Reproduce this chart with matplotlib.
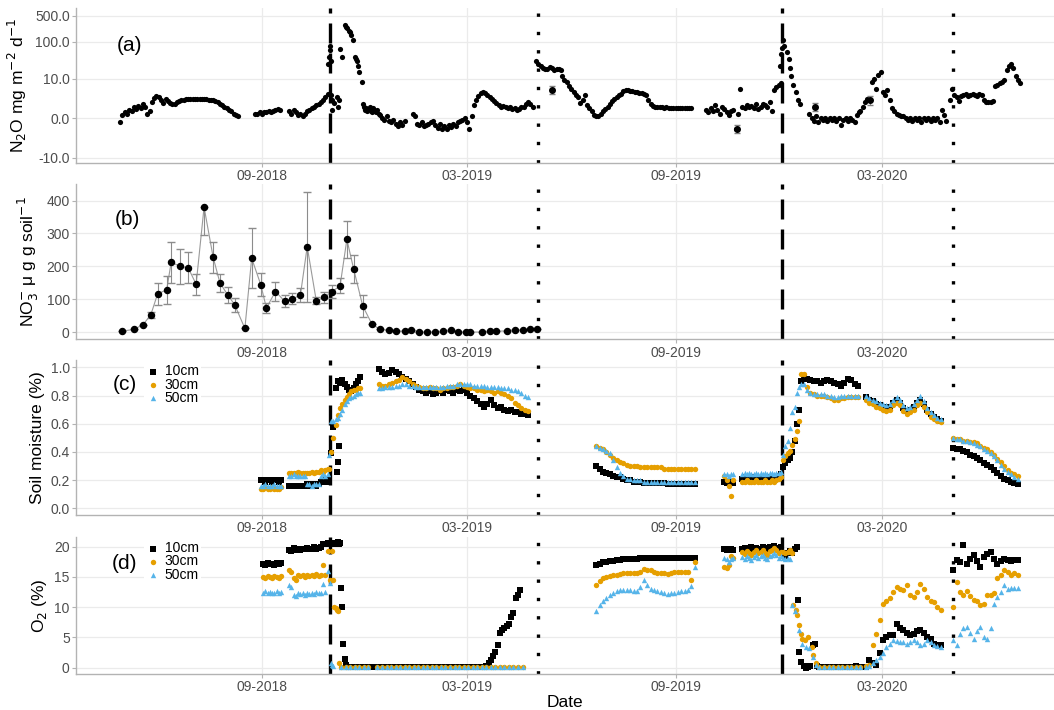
import numpy as np
import pandas as pd
import matplotlib
matplotlib.use("Agg")
import matplotlib.pyplot as plt
import matplotlib.dates as mdates

# ---------------- (a) N2O flux: (start date, step in days, values)
n2o_segments = [
    ("2018-04-29", 2, [-0.3, 0.2, 0.4, 0.3, 0.6, 0.5, 0.9, 0.7, 1.1, 0.8, 1.3, 1.0, 0.3, 0.5, 1.6, 2.4, 2.8, 2.5,
                       2.0, 1.5, 2.2, 1.8, 1.5, 1.3, 1.4, 1.6, 1.8, 1.9, 2.0, 2.1, 2.1, 2.2, 2.2, 2.2, 2.2, 2.2,
                       2.1, 2.2, 2.1, 2.0, 1.9, 2.0, 1.8, 1.6, 1.4, 1.2, 1.0, 0.8, 0.6, 0.5, 0.3, 0.2, 0.1]),
    ("2018-08-26", 2, [0.3, 0.3, 0.4, 0.3, 0.4, 0.4, 0.5, 0.4, 0.5, 0.6, 0.7, 0.6]),
    ("2018-09-25", 2, [0.5, 0.3, 0.6, 0.4, 0.2, 0.3, 0.1, 0.3, 0.5, 0.6, 0.8, 1.0, 1.2, 1.4, 1.7, 2.0, 2.6, 3.2]),
    ("2018-11-29", 1, [1.3, 1.0, 0.6, 0.8, 0.5, 0.7, 0.9, 0.5, 0.4, 0.8, 0.6, 0.5, 0.4, 0.6, 0.3]),
    ("2018-12-14", 2, [0.2, 0.0, -0.1, 0.1, -0.2, -0.3, -0.1, -0.4, -0.6, -0.3, -0.5, -0.2]),
    ("2019-01-12", 2, [0.3, 0.1, -0.4, -0.5, -0.3, -0.6, -0.5, -0.4, -0.3, -0.2, -0.5, -0.8, -0.4, -0.9,
                       -0.6, -1.0, -0.5, -0.7, -0.4, -0.6, -0.3, -0.2, -0.1, 0.0, -0.3, -1.0, 0.1]),
    ("2019-03-07", 2, [1.2, 2.0, 2.8, 3.5, 4.0, 3.5, 3.0, 2.6, 2.2, 1.8, 1.5, 1.2, 1.0, 1.1, 0.9, 0.8, 0.9,
                       0.7, 0.8, 0.6, 0.7, 0.9, 1.0, 1.4, 1.6, 1.3, 1.0]),
    ("2019-05-01", 2, [30, 25, 22, 20, 18, 19, 21, 20, 17, 18, 19, 17]),
    ("2019-05-24", 2, [12, 9, 8, 6, 5, 4, 3, 2.5, 1.5, 2.0, 3.0, 1.2, 0.8, 0.5, 0.2, 0.1, 0.1, 0.3, 0.5,
                       0.7, 1.0, 1.4, 1.8, 2.2, 2.6, 3.0, 3.3, 4.2, 4.6, 4.5, 4.3, 4.2, 4.0, 3.9, 3.7, 3.5,
                       3.4, 3.0, 2.0, 1.4, 1.1, 1.0, 0.95, 0.9, 0.9, 0.85, 0.9, 0.85, 0.8, 0.85, 0.8, 0.8,
                       0.8, 0.8, 0.85, 0.8, 0.8, 0.8]),
    ("2019-09-28", 2, [0.6, 0.4, 0.8, 0.5, 1.2, 0.6, 0.3, 1.0, 0.7, 0.4, 0.2, 0.5, 0.6, -1.0, 0.3, 5.0, 1.0,
                       0.8, 1.2, 0.9, 1.1, 0.8, 1.3, 0.7, 1.0, 1.4, 1.2, 0.9, 1.6, 0.5]),
    ("2019-11-27", 2, [4.5, 5.5, 6.5, 7.5]),
    ("2019-12-28", 2, [0.3, 0.0, -0.2, 0.1, -0.3, 0.0, -0.1, 0.0, -0.2, 0.0, -0.1, 0.0, -0.2, 0.0, -0.5,
                       -0.1, 0.0, -0.2, 0.0, -0.1, -0.3, 0.2, 0.4]),
    ("2020-02-11", 2, [0.5, 1.0, 1.6, 2.2, 2.0, 8.0, 10, 5.0, 13, 15, 4, 3, 4.5, 2.0, 0.8, 0.5, 0.3, 0.2, 0.1, 0.1]),
    ("2020-03-22", 2, [0.0, -0.1, 0.0, -0.2, 0.0, -0.1, 0.0, -0.3, 0.0, -0.1, 0.0, -0.2, 0.0, -0.1, 0.0,
                       -0.3, 0.6, 0.2, -0.2]),
    ("2020-04-30", 2, [2.0, 5.0, 3.0, 2.5, 1.8, 2.8, 3.0, 3.2, 2.9, 3.1, 3.3, 3.0, 2.8, 3.2, 3.0, 2.0, 1.6,
                       1.7, 1.6, 1.8, 6.0, 6.6, 7.2, 8.0, 9.0, 17, 22, 25, 20, 12, 9, 7.5]),
]
n2o_peak_dates = ["2018-10-29", "2018-10-30", "2018-10-31", "2018-10-31", "2018-11-01", "2018-11-01",
                  "2018-11-02", "2018-11-02", "2018-11-04", "2018-11-06", "2018-11-07", "2018-11-08",
                  "2018-11-09", "2018-11-11", "2018-11-13", "2018-11-14", "2018-11-15", "2018-11-17",
                  "2018-11-18", "2018-11-19", "2018-11-20", "2018-11-22", "2018-11-23", "2018-11-24",
                  "2018-11-25", "2018-11-26", "2018-11-28",
                  "2019-12-02", "2019-12-03", "2019-12-04", "2019-12-05", "2019-12-06", "2019-12-08",
                  "2019-12-10", "2019-12-11", "2019-12-12", "2019-12-14", "2019-12-16", "2019-12-18",
                  "2019-12-20"]
n2o_peak_vals = [25, 40, 60, 80, 30, 3.0, 0.6, 2.0, 1.5, 2.5, 1.0, 2.0,
                 65, 40, 280, 250, 230, 200, 180, 150, 110, 40, 35, 30, 22, 15, 8,
                 23, 48, 67, 112, 80, 54, 35, 20, 12, 6.6, 4.0, 2.0, 1.4]
n2o_err_dates = ["2019-05-15", "2019-10-25", "2020-01-02", "2020-02-20"]
n2o_err_vals = [4.6, -1.0, 1.0, 2.0]
n2o_err_sd = [1.2, 0.5, 0.5, 0.8]

# ---------------- (b) NO3
no3_dates = ["2018-05-01", "2018-05-11", "2018-05-19", "2018-05-26", "2018-06-01", "2018-06-09",
             "2018-06-13", "2018-06-21", "2018-06-28", "2018-07-05", "2018-07-12", "2018-07-20",
             "2018-07-26", "2018-08-02", "2018-08-08", "2018-08-17", "2018-08-23", "2018-08-31",
             "2018-09-05", "2018-09-13", "2018-09-21", "2018-09-28", "2018-10-05", "2018-10-11",
             "2018-10-19", "2018-10-26", "2018-11-02", "2018-11-09", "2018-11-15", "2018-11-21",
             "2018-11-29", "2018-12-07", "2018-12-14", "2018-12-22", "2018-12-28", "2019-01-05",
             "2019-01-11", "2019-01-18", "2019-01-25", "2019-02-01", "2019-02-08", "2019-02-15",
             "2019-02-21", "2019-02-28", "2019-03-04", "2019-03-14", "2019-03-21", "2019-03-27",
             "2019-04-05", "2019-04-12", "2019-04-19", "2019-04-26", "2019-05-02"]
no3_vals = [4, 9, 23, 53, 117, 129, 213, 200, 196, 146, 380, 228, 150, 113, 84, 12, 225, 145, 74, 124,
            95, 102, 113, 260, 96, 106, 124, 141, 282, 192, 80, 26, 9, 7, 4, 4, 7, 1, 1, 1, 4, 8, 1, 1,
            1, 1, 4, 3, 5, 8, 7, 10, 9]
no3_err_lo = [0, 0, 0, 10, 33, 43, 62, 53, 47, 32, 84, 47, 26, 25, 21, 0, 91, 34, 16, 29, 18, 17, 22,
              167, 10, 18, 20, 23, 56, 42, 33] + [0] * 22
no3_err_hi = [0, 0, 0, 10, 33, 43, 62, 53, 47, 32, 0, 47, 26, 25, 21, 0, 91, 34, 16, 29, 18, 17, 22,
              165, 10, 18, 20, 23, 56, 42, 33] + [0] * 22

# ---------------- (c) soil moisture
sm10_segments = [
    ("2018-08-31", 2, [0.20, 0.20, 0.19, 0.20, 0.20, 0.19, 0.20, 0.20, 0.19, 0.20]),
    ("2018-09-25", 2, [0.16, 0.16, 0.16, 0.16, 0.16, 0.16, 0.16, 0.16, 0.17, 0.16, 0.17, 0.17, 0.16, 0.17,
                       0.19, 0.19, 0.20, 0.19]),
    ("2018-10-30", 2, [0.20, 0.39, 0.58, 0.85, 0.90, 0.89, 0.91, 0.88, 0.86, 0.84, 0.83, 0.85, 0.88, 0.90, 0.93]),
    ("2018-11-06", 1, [0.26, 0.33, 0.44]),
    ("2018-12-13", 3, [0.99, 0.97, 0.95, 0.96, 0.98, 0.97, 0.95, 0.93, 0.92, 0.90, 0.88, 0.86, 0.84,
                       0.83, 0.82, 0.83, 0.81, 0.82, 0.83, 0.82, 0.84, 0.83, 0.82, 0.84, 0.83, 0.84,
                       0.82, 0.80, 0.78, 0.76, 0.74, 0.72, 0.74, 0.77, 0.73, 0.71, 0.72, 0.70, 0.69,
                       0.70, 0.68, 0.68, 0.67, 0.67, 0.66]),
    ("2019-06-23", 3, [0.30, 0.28, 0.26, 0.25, 0.24, 0.23, 0.22, 0.22, 0.21, 0.20, 0.20, 0.19, 0.19, 0.19,
                       0.18, 0.18, 0.18, 0.18, 0.18, 0.18, 0.18, 0.17, 0.17, 0.17, 0.17, 0.17, 0.17, 0.17,
                       0.17, 0.17]),
    ("2019-10-14", 2, [0.19, 0.18, 0.19, 0.19, 0.18]),
    ("2019-10-30", 2, [0.21, 0.22, 0.21, 0.21, 0.22, 0.21, 0.22, 0.21, 0.21, 0.22, 0.21, 0.22, 0.21, 0.21,
                       0.22, 0.22, 0.23, 0.24]),
    ("2019-12-05", 2, [0.29, 0.32, 0.34, 0.36, 0.40, 0.48, 0.60, 0.70, 0.90]),
    ("2019-12-23", 3, [0.93, 0.92, 0.91, 0.90, 0.90, 0.89, 0.90, 0.91, 0.90, 0.89, 0.88, 0.87, 0.89, 0.92,
                       0.91, 0.88, 0.87]),
    ("2020-02-16", 3, [0.79, 0.77, 0.76, 0.74, 0.73, 0.72, 0.71, 0.72, 0.75, 0.77, 0.75, 0.71, 0.69, 0.70,
                       0.72, 0.75, 0.77, 0.74, 0.70, 0.67, 0.65, 0.63, 0.62]),
    ("2020-05-03", 3, [0.43, 0.42, 0.42, 0.41, 0.40, 0.38, 0.37, 0.36, 0.34, 0.32, 0.31, 0.29, 0.27, 0.25,
                       0.23, 0.21, 0.20, 0.19, 0.18, 0.17]),
]
sm30_segments = [
    ("2018-08-31", 2, [0.14, 0.14, 0.15, 0.14, 0.14, 0.15, 0.14, 0.14, 0.14, 0.15]),
    ("2018-09-25", 2, [0.25, 0.25, 0.25, 0.25, 0.26, 0.25, 0.25, 0.25, 0.25, 0.25, 0.26, 0.25, 0.26, 0.26,
                       0.27, 0.26, 0.27, 0.28]),
    ("2018-10-30", 2, [0.28, 0.40, 0.50, 0.59, 0.66, 0.71, 0.74, 0.77, 0.79, 0.81, 0.83, 0.84, 0.84, 0.85, 0.85]),
    ("2018-12-13", 3, [0.88, 0.87, 0.87, 0.88, 0.89, 0.90, 0.91, 0.93, 0.92, 0.90, 0.88, 0.87, 0.86,
                       0.85, 0.85, 0.86, 0.85, 0.85, 0.84, 0.85, 0.85, 0.86, 0.86, 0.87, 0.88, 0.87,
                       0.86, 0.85, 0.85, 0.84, 0.84, 0.83, 0.84, 0.83, 0.82, 0.83, 0.82, 0.81, 0.80,
                       0.78, 0.75, 0.73, 0.71, 0.70, 0.69]),
    ("2019-06-23", 3, [0.44, 0.43, 0.42, 0.40, 0.38, 0.36, 0.34, 0.33, 0.32, 0.31, 0.30, 0.30, 0.30, 0.29,
                       0.29, 0.29, 0.29, 0.29, 0.29, 0.29, 0.28, 0.28, 0.28, 0.28, 0.28, 0.28, 0.28, 0.28,
                       0.28, 0.28]),
    ("2019-10-14", 2, [0.23, 0.20, 0.16, 0.09, 0.20]),
    ("2019-10-30", 2, [0.19, 0.19, 0.20, 0.19, 0.19, 0.19, 0.20, 0.19, 0.19, 0.19, 0.20, 0.19, 0.19, 0.20,
                       0.19, 0.20, 0.21, 0.22]),
    ("2019-12-05", 2, [0.34, 0.37, 0.39, 0.41, 0.45, 0.49, 0.55, 0.62, 0.95]),
    ("2019-12-23", 3, [0.95, 0.86, 0.82, 0.81, 0.80, 0.80, 0.80, 0.79, 0.78, 0.77, 0.77, 0.78, 0.78, 0.79,
                       0.79, 0.79, 0.79]),
    ("2020-02-16", 3, [0.77, 0.75, 0.74, 0.72, 0.71, 0.70, 0.69, 0.70, 0.73, 0.75, 0.73, 0.69, 0.67, 0.68,
                       0.70, 0.73, 0.75, 0.72, 0.68, 0.65, 0.63, 0.62, 0.61]),
    ("2020-05-03", 3, [0.50, 0.49, 0.49, 0.48, 0.48, 0.47, 0.47, 0.46, 0.44, 0.43, 0.42, 0.40, 0.38, 0.35,
                       0.33, 0.30, 0.27, 0.25, 0.24, 0.23]),
]
sm50_segments = [
    ("2018-08-31", 2, [0.16, 0.16, 0.17, 0.16, 0.16, 0.16, 0.17, 0.16, 0.16, 0.16]),
    ("2018-09-25", 2, [0.23, 0.23, 0.24, 0.23, 0.23, 0.23, 0.23, 0.23, 0.17, 0.17, 0.16, 0.17, 0.17, 0.17,
                       0.23, 0.24, 0.23, 0.24]),
    ("2018-10-30", 2, [0.38, 0.62, 0.62, 0.63, 0.64, 0.67, 0.70, 0.74, 0.76, 0.78, 0.79, 0.80, 0.81, 0.82, 0.82]),
    ("2018-12-13", 3, [0.85, 0.85, 0.86, 0.86, 0.86, 0.87, 0.87, 0.88, 0.88, 0.87, 0.87, 0.86, 0.86,
                       0.86, 0.86, 0.86, 0.86, 0.86, 0.86, 0.86, 0.87, 0.87, 0.87, 0.88, 0.88, 0.88,
                       0.88, 0.88, 0.87, 0.87, 0.87, 0.87, 0.86, 0.86, 0.86, 0.86, 0.85, 0.85, 0.85,
                       0.84, 0.84, 0.83, 0.82, 0.80, 0.79]),
    ("2019-06-23", 3, [0.44, 0.43, 0.42, 0.41, 0.39, 0.34, 0.29, 0.25, 0.23, 0.21, 0.21, 0.20, 0.20, 0.20,
                       0.19, 0.19, 0.19, 0.19, 0.19, 0.19, 0.19, 0.19, 0.19, 0.19, 0.19, 0.19, 0.19, 0.19,
                       0.19, 0.19]),
    ("2019-10-14", 2, [0.24, 0.24, 0.23, 0.24, 0.24]),
    ("2019-10-30", 2, [0.24, 0.25, 0.24, 0.25, 0.24, 0.24, 0.25, 0.24, 0.25, 0.24, 0.25, 0.24, 0.25, 0.25,
                       0.24, 0.25, 0.25, 0.26]),
    ("2019-12-05", 2, [0.38, 0.44, 0.48, 0.57, 0.68, 0.72, 0.82, 0.86, 0.88]),
    ("2019-12-23", 3, [0.88, 0.84, 0.82, 0.81, 0.81, 0.81, 0.81, 0.80, 0.80, 0.79, 0.79, 0.80, 0.80, 0.80,
                       0.80, 0.80, 0.80]),
    ("2020-02-16", 3, [0.80, 0.78, 0.77, 0.76, 0.75, 0.74, 0.73, 0.74, 0.77, 0.79, 0.77, 0.73, 0.71, 0.72,
                       0.74, 0.77, 0.80, 0.76, 0.71, 0.68, 0.66, 0.64, 0.63]),
    ("2020-05-03", 3, [0.50, 0.49, 0.49, 0.48, 0.48, 0.47, 0.46, 0.45, 0.44, 0.42, 0.41, 0.39, 0.37, 0.34,
                       0.31, 0.28, 0.26, 0.24, 0.22, 0.21]),
]

# ---------------- (d) O2
o2_10_segments = [
    ("2018-09-02", 2, [17.2, 17.0, 17.3, 17.1, 17.2, 17.0, 17.3, 17.2, 17.3]),
    ("2018-09-25", 2, [19.5, 19.3, 19.8, 19.5, 19.6, 19.4, 19.7, 19.6, 19.8, 19.7, 19.6, 19.9, 19.7, 19.8,
                       20.0, 20.5, 20.4, 20.6, 20.5]),
    ("2018-11-02", 1, [20.5, 20.6, 20.4, 20.6, 20.5, 20.7, 20.5, 20.6, 13.1, 10.1, 4.0, 1.5, 0.4]),
    ("2018-11-16", 4, [0.2, 0.1, 0.2, 0.2, 0.1, 0.2]),
    ("2018-12-12", 4, [0.2, 0.1, 0.2, 0.2, 0.1, 0.2, 0.2, 0.1, 0.2, 0.2, 0.1, 0.2, 0.2, 0.1, 0.2, 0.2,
                       0.1, 0.2, 0.2, 0.1, 0.2, 0.2, 0.1, 0.2]),
    ("2019-03-18", 2, [0.3, 0.8, 1.3, 2.0, 2.6, 3.7, 5.7, 6.2, 6.6, 6.9, 7.3, 8.4, 9.0, 11.5, 12.0, 12.8]),
    ("2019-06-23", 3, [17.0, 17.2, 17.4, 17.5, 17.6, 17.7, 17.8, 17.8, 17.9, 17.9, 18.0, 18.0, 18.0, 18.1,
                       18.2, 18.2, 18.2, 18.2, 18.1, 18.2, 18.1, 18.1, 18.2, 18.1, 18.1, 18.2, 18.1, 18.1,
                       18.2, 18.1]),
    ("2019-10-14", 2, [19.6, 19.5, 19.7, 19.6, 19.5]),
    ("2019-10-30", 2, [19.6, 19.8, 19.5, 19.7, 19.9, 19.6, 19.8, 19.5, 19.7, 20.0, 19.8, 19.6, 19.9, 19.7,
                       20.1, 19.8, 19.6, 19.9]),
    ("2020-01-06", 4, [0.2, 0.1, 0.2, 0.2, 0.1, 0.2, 0.2, 0.1, 0.3, 0.2]),
    ("2020-02-16", 3, [0.2, 1.3, 0.7, 0.5, 2.4, 4.6, 5.0, 5.4, 5.4, 7.3, 6.5, 6.2, 5.8, 5.4, 5.6, 6.0, 6.2,
                       5.8, 5.1, 4.8, 4.0, 3.8, 3.7]),
    ("2020-05-03", 3, [16.1, 17.8, 17.5, 20.3, 17.2, 18.0, 18.6, 17.6, 16.7, 18.3, 18.8, 19.2, 18.0, 17.2,
                       17.6, 17.9, 17.8, 17.6, 17.8, 17.8]),
]
o2_30_segments = [
    ("2018-09-02", 2, [15.0, 14.8, 15.1, 15.0, 14.9, 15.2, 15.0, 14.9, 15.1]),
    ("2018-09-25", 2, [16.2, 15.9, 14.8, 14.5, 15.4, 15.2, 15.3, 15.0, 15.4, 15.2, 15.3, 15.1, 15.5, 15.2,
                       15.3, 16.9, 15.4, 19.3, 14.5]),
    ("2018-11-02", 1, [19.3, 14.5, 10.0, 9.8, 9.6, 9.3, 0.8]),
    ("2018-11-10", 4, [0.1, 0.1, 0.1, 0.1, 0.1, 0.1, 0.1]),
    ("2018-12-12", 4, [0.1, 0.1, 0.1, 0.1, 0.1, 0.1, 0.1, 0.1, 0.1, 0.1, 0.1, 0.1, 0.1, 0.1, 0.1, 0.1,
                       0.1, 0.1, 0.1, 0.1, 0.1, 0.1, 0.1, 0.1, 0.1, 0.1, 0.1, 0.1, 0.1, 0.1, 0.1, 0.1, 0.1]),
    ("2019-06-23", 3, [13.7, 14.4, 14.8, 15.0, 15.2, 15.3, 15.4, 15.5, 15.6, 15.6, 15.6, 15.7, 15.6, 15.8,
                       16.4, 16.2, 16.1, 15.8, 15.7, 15.6, 15.6, 15.5, 15.6, 15.8, 15.9, 15.9, 15.8, 15.9,
                       14.5, 17.5]),
    ("2019-10-14", 2, [16.7, 16.5, 17.0, 18.5, 18.2]),
    ("2019-10-30", 2, [19.2, 18.8, 19.3, 19.0, 18.6, 19.1, 19.4, 18.9, 19.2, 19.5, 19.0, 18.7, 19.3, 19.5,
                       19.8, 19.4, 19.0, 19.2]),
    ("2020-01-06", 4, [0.1, 0.2, 0.1, 0.1, 0.2, 0.1, 0.1, 0.2, 0.1, 0.1]),
    ("2020-02-16", 3, [0.3, 0.5, 3.7, 5.5, 7.9, 10.6, 11.0, 11.5, 12.5, 13.4, 13.0, 12.8, 13.7, 12.0, 11.7,
                       12.5, 13.9, 13.0, 11.7, 11.0, 10.9, 10.0, 9.5]),
    ("2020-05-03", 3, [10.1, 14.2, 12.5, 12.0, 12.6, 11.8, 11.2, 11.0, 10.4, 10.6, 12.0, 12.0, 12.3, 14.8,
                       15.3, 16.1, 15.8, 15.3, 15.6, 15.3]),
]
o2_50_segments = [
    ("2018-09-02", 2, [12.4, 12.6, 12.3, 12.5, 12.4, 12.3, 12.6, 12.4, 12.5]),
    ("2018-09-25", 2, [13.7, 13.4, 12.0, 11.8, 12.3, 12.2, 12.4, 12.1, 12.3, 12.2, 12.4, 12.2, 12.5, 12.3,
                       12.3, 13.8, 12.5, 16.0, 14.0]),
    ("2018-11-01", 1, [0.7, 0.5, 0.3]),
    ("2018-11-10", 4, [0.05, 0.05, 0.05, 0.05, 0.05, 0.05, 0.05]),
    ("2018-12-12", 4, [0.05, 0.05, 0.05, 0.05, 0.05, 0.05, 0.05, 0.05, 0.05, 0.05, 0.05, 0.05, 0.05, 0.05,
                       0.05, 0.05, 0.05, 0.05, 0.05, 0.05, 0.05, 0.05, 0.05, 0.05, 0.05, 0.05, 0.05, 0.05,
                       0.05, 0.05, 0.05, 0.05, 0.05]),
    ("2019-06-23", 3, [9.3, 10.4, 11.0, 11.6, 12.0, 12.3, 12.6, 12.8, 12.8, 12.9, 12.8, 12.6, 12.7, 13.3,
                       14.5, 13.6, 13.0, 12.8, 12.7, 12.5, 12.3, 12.2, 12.3, 12.4, 12.5, 12.6, 12.7, 12.8,
                       13.5, 16.7]),
    ("2019-10-14", 2, [18.1, 18.0, 17.4, 17.9, 18.1]),
    ("2019-10-30", 2, [18.3, 18.0, 18.5, 18.2, 17.8, 18.3, 18.6, 18.1, 18.4, 18.7, 18.2, 18.0, 18.5, 18.7,
                       19.0, 18.6, 18.2, 18.4]),
    ("2020-01-06", 4, [0.1, 0.1, 0.1, 0.1, 0.1, 0.1, 0.1, 0.1, 0.1, 0.1]),
    ("2020-02-16", 3, [0.2, 0.3, 0.7, 1.2, 1.8, 2.5, 3.5, 4.0, 4.6, 4.5, 4.3, 4.2, 4.0, 4.3, 4.6, 4.2, 3.7,
                       4.0, 4.6, 4.2, 3.7, 3.6, 3.5]),
    ("2020-05-03", 3, [4.6, 3.7, 5.5, 6.5, 6.8, 5.8, 4.8, 6.0, 6.8, 5.0, 4.8, 6.5, 10.6, 11.7, 12.5, 13.7,
                       13.0, 13.2, 13.1, 13.1]),
]
# December 2019 drop, irregular dates
o2_10_dec_dates = ["2019-12-05", "2019-12-07", "2019-12-09", "2019-12-11", "2019-12-13", "2019-12-15",
                   "2019-12-17", "2019-12-18", "2019-12-19", "2019-12-21", "2019-12-23", "2019-12-25",
                   "2019-12-27", "2019-12-29", "2019-12-31", "2020-01-02", "2020-01-04"]
o2_10_dec_vals = [18.9, 18.5, 19.0, 19.3, 19.0, 19.6, 20.0, 11.2, 2.6, 0.9, 0.3, 0.0, 0.2, 0.3, 3.7, 4.0, 0.3]
o2_30_dec_dates = ["2019-12-05", "2019-12-07", "2019-12-09", "2019-12-11", "2019-12-13", "2019-12-14",
                   "2019-12-16", "2019-12-17", "2019-12-19", "2019-12-21", "2019-12-22", "2019-12-24",
                   "2019-12-27", "2019-12-30", "2019-12-31", "2020-01-03"]
o2_30_dec_vals = [19.2, 18.9, 19.1, 19.4, 19.0, 10.4, 9.5, 8.7, 7.1, 5.5, 4.8, 4.6, 5.1, 3.5, 2.1, 0.7]
o2_50_dec_dates = ["2019-12-05", "2019-12-07", "2019-12-09", "2019-12-11", "2019-12-13", "2019-12-15",
                   "2019-12-19", "2019-12-22", "2019-12-25", "2019-12-28", "2019-12-31", "2020-01-03"]
o2_50_dec_vals = [18.1, 17.9, 18.2, 18.0, 10.4, 9.3, 6.2, 4.0, 3.5, 3.2, 1.8, 0.4]

event_dashed = ["2018-10-31", "2019-12-04"]
event_dotted = ["2019-05-03", "2020-05-03"]
x_ticks = ["2018-09-01", "2019-03-01", "2019-09-01", "2020-03-01"]
depths = ["10cm", "30cm", "50cm"]
depth_colors = ["black", "#E69F00", "#56B4E9"]
depth_markers = ["s", "o", "^"]


def expand(segments, extra_dates=(), extra_vals=()):
    d, v = [], []
    for start, step, vals in segments:
        d.extend(pd.date_range(start, periods=len(vals), freq=f"{step}D"))
        v.extend(vals)
    d.extend(pd.to_datetime(list(extra_dates)))
    v.extend(extra_vals)
    return pd.DatetimeIndex(d), np.array(v, dtype=float)


def depth_legend(ax):
    leg = ax.legend(loc="upper left", bbox_to_anchor=(0.07, 0.985), fontsize=10, frameon=True,
                    handletextpad=0.3, labelspacing=-0.05, borderpad=0.15, markerscale=1.0,
                    handlelength=1.0, borderaxespad=0)
    leg.get_frame().set_edgecolor("none")
    leg.get_frame().set_alpha(1)


plt.rcParams['font.family'] = ['Liberation Sans', 'DejaVu Sans']
grey_txt = "#4D4D4D"
fig = plt.figure(figsize=(10.54, 7.10), dpi=100)
boxes = [(0.0721, 0.7704, 0.928, 0.2183),
         (0.0721, 0.5221, 0.928, 0.2187),
         (0.0721, 0.2751, 0.928, 0.2179),
         (0.0721, 0.0511, 0.928, 0.1925)]
axes = [fig.add_axes(b) for b in boxes]

xmin, xmax = pd.Timestamp("2018-03-21"), pd.Timestamp("2020-07-31")
for ax in axes:
    ax.set_xlim(xmin, xmax)
    ax.set_xticks(pd.to_datetime(x_ticks))
    ax.xaxis.set_major_formatter(mdates.DateFormatter("%m-%Y"))
    ax.grid(True, color="#EBEBEB", linewidth=0.9)
    ax.set_axisbelow(True)
    for s in ["top", "right"]:
        ax.spines[s].set_visible(False)
    for s in ["left", "bottom"]:
        ax.spines[s].set_color("#B3B3B3")
        ax.spines[s].set_linewidth(1.0)
    ax.tick_params(colors="#B3B3B3", labelcolor=grey_txt, labelsize=10, length=3, pad=1.5)
    for d in event_dashed:
        ax.axvline(pd.Timestamp(d), color="black", linewidth=2.4, linestyle=(0, (6, 3)), zorder=1.5)
    for d in event_dotted:
        ax.axvline(pd.Timestamp(d), color="black", linewidth=2.4, linestyle=(0, (1, 4.5)), zorder=1.5)

# (a)
ax = axes[0]
fwd = lambda y: np.sign(y) * np.log10(1 + np.abs(y))
inv = lambda t: np.sign(t) * (10 ** np.abs(t) - 1)
ax.set_yscale("function", functions=(fwd, inv))
d, v = expand(n2o_segments, n2o_peak_dates, n2o_peak_vals)
ax.scatter(d, v, s=14, color="black", linewidths=0, zorder=3)
ax.errorbar(pd.to_datetime(n2o_err_dates), n2o_err_vals, yerr=n2o_err_sd, fmt="o", ms=4,
            color="black", ecolor="#808080", elinewidth=0.8, capsize=2.5, zorder=3)
ax.set_ylim(-14.3, 790)
ax.set_yticks([-10, 0, 10, 100, 500])
ax.set_yticklabels(["-10.0", "0.0", "10.0", "100.0", "500.0"])
ax.set_ylabel("N$_2$O mg m$^{-2}$ d$^{-1}$", fontsize=12.5, color="black", labelpad=4)
ax.text(0.055, 0.76, "(a)", transform=ax.transAxes, fontsize=15, va="center", ha="center")

# (b)
ax = axes[1]
nd = pd.to_datetime(no3_dates)
ax.plot(nd, no3_vals, color="#9A9A9A", linewidth=0.8, zorder=2)
ax.errorbar(nd, no3_vals, yerr=[no3_err_lo, no3_err_hi], fmt="none", ecolor="#8C8C8C",
            elinewidth=0.8, capsize=3, zorder=2)
ax.scatter(nd, no3_vals, s=19, color="black", zorder=3)
ax.set_ylim(-21, 450)
ax.set_yticks([0, 100, 200, 300, 400])
ax.set_ylabel("NO$_3^{-}$ μ g g soil$^{-1}$", fontsize=12.5, labelpad=4)
ax.text(0.053, 0.77, "(b)", transform=ax.transAxes, fontsize=15, va="center", ha="center")

# (c)
ax = axes[2]
sm_series = [expand(sm10_segments), expand(sm30_segments), expand(sm50_segments)]
for (d, v), lab, col, mk in zip(sm_series, depths, depth_colors, depth_markers):
    ax.scatter(d, v, s=15, color=col, marker=mk, linewidths=0, zorder=3, label=lab)
ax.set_ylim(-0.045, 1.052)
ax.set_yticks([0, 0.2, 0.4, 0.6, 0.8, 1.0])
ax.set_yticklabels(["0.0", "0.2", "0.4", "0.6", "0.8", "1.0"])
ax.set_ylabel("Soil moisture (%)", fontsize=12.5, labelpad=4)
ax.text(0.050, 0.84, "(c)", transform=ax.transAxes, fontsize=15, va="center", ha="center")
depth_legend(ax)

# (d)
ax = axes[3]
o2_series = [expand(o2_10_segments, o2_10_dec_dates, o2_10_dec_vals),
             expand(o2_30_segments, o2_30_dec_dates, o2_30_dec_vals),
             expand(o2_50_segments, o2_50_dec_dates, o2_50_dec_vals)]
for (d, v), lab, col, mk in zip(o2_series, depths, depth_colors, depth_markers):
    ax.scatter(d, v, s=15, color=col, marker=mk, linewidths=0, zorder=3, label=lab)
ax.set_ylim(-0.99, 21.6)
ax.set_yticks([0, 5, 10, 15, 20])
ax.set_ylabel("O$_2$ (%)", fontsize=12.5, labelpad=4)
ax.set_xlabel("Date", fontsize=12.5, labelpad=1)
ax.text(0.050, 0.81, "(d)", transform=ax.transAxes, fontsize=15, va="center", ha="center")
depth_legend(ax)

fig.savefig("out.png", dpi=100)
